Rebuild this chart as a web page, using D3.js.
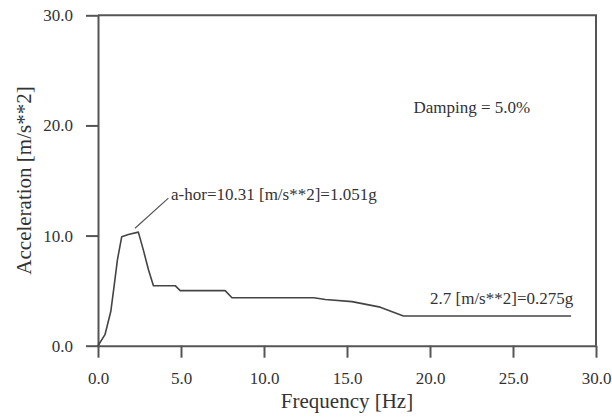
<!DOCTYPE html>
<html>
<head>
<meta charset="utf-8">
<script src="https://cdn.jsdelivr.net/npm/d3@7"></script>
<style>
  body { margin: 0; background: #fff; }
  text { font-family: "Liberation Serif", "DejaVu Serif", serif; fill: #333; }
</style>
</head>
<body>
<div id="chart"></div>
<script>
////////////////////////////////////////////////////////////////////////
// response spectrum -- acceleration vs frequency
////////////////////////////////////////////////////////////////////////

//Spectrum points
var freqHz = [0.0, 0.42, 0.77, 0.97, 1.17, 1.43, 1.83, 2.43, 2.73, 3.04, 3.34, 4.65, 4.95, 7.66, 8.07, 13.0, 13.7, 15.3, 17.0, 18.4, 28.5];
var accel  = [0.0, 1.0,  3.1,  5.4,  7.8,  9.9,  10.1, 10.31, 8.7, 6.9,  5.45, 5.45, 5.0,  5.0,  4.35, 4.35, 4.2,  4.0,  3.5,  2.7,  2.7];

var xTicks = [0, 5, 10, 15, 20, 25, 30];
var yTicks = [0, 10, 20, 30];

var xTitle = "Frequency [Hz]";
var yTitle = "Acceleration [m/s**2]";

//Notes: [freq, accel] anchor of the text, label
var peakNote  = {at: [4.4, 13.2],  leader: [[2.23, 10.66], [4.24, 13.4]], label: "a-hor=10.31 [m/s**2]=1.051g"};
var tailNote  = {at: [20.0, 3.8],  label: "2.7 [m/s**2]=0.275g"};
var dampNote  = {at: [19.0, 21.1], label: "Damping = 5.0%"};


////////////////////////////////////////////////////////////////////////
//
// Draw the chart
//
////////////////////////////////////////////////////////////////////////
function drawChart()
    {
    var width = 612, height = 417;
    var left = 98, right = 596, top = 15.3, bottom = 345.7;

    var svg = d3.select("#chart").append("svg")
        .attr("width", width)
        .attr("height", height);

    var x = d3.scaleLinear().domain([0, 30]).range([left, right]);
    var y = d3.scaleLinear().domain([0, 30]).range([bottom, top]);

    var lineCol = "#555";

    //Axes, ticks point outward
    var xAxis = svg.append("g")
        .attr("transform", "translate(0," + bottom + ")")
        .call(d3.axisBottom(x).tickValues(xTicks).tickFormat(d3.format(".1f"))
            .tickSize(12).tickSizeOuter(0).tickPadding(14));

    var yAxis = svg.append("g")
        .attr("transform", "translate(" + left + ",0)")
        .call(d3.axisLeft(y).tickValues(yTicks).tickFormat(d3.format(".1f"))
            .tickSize(12).tickSizeOuter(0).tickPadding(13));

    [xAxis, yAxis].forEach(function(g)
        {
        g.selectAll("path, line").attr("stroke", lineCol).attr("stroke-width", 2);
        g.selectAll("text").attr("font-size", 17).attr("fill", "#333")
            .attr("font-family", "Liberation Serif");
        });

    //Top and right frame
    svg.append("path")
        .attr("d", "M" + left + "," + top + "H" + right + "V" + bottom)
        .attr("fill", "none")
        .attr("stroke", lineCol)
        .attr("stroke-width", 2);

    //Spectrum curve
    var pts = freqHz.map(function(f, i) { return [f, accel[i]]; });
    svg.append("path")
        .datum(pts)
        .attr("d", d3.line().x(function(d) { return x(d[0]); }).y(function(d) { return y(d[1]); }))
        .attr("fill", "none")
        .attr("stroke", "#444")
        .attr("stroke-width", 1.6)
        .attr("stroke-linejoin", "round");

    //Peak leader line
    svg.append("line")
        .attr("x1", x(peakNote.leader[0][0])).attr("y1", y(peakNote.leader[0][1]))
        .attr("x2", x(peakNote.leader[1][0])).attr("y2", y(peakNote.leader[1][1]))
        .attr("stroke", "#555")
        .attr("stroke-width", 1.2);

    [peakNote, tailNote, dampNote].forEach(function(n)
        {
        svg.append("text")
            .attr("x", x(n.at[0]))
            .attr("y", y(n.at[1]))
            .attr("font-size", 17)
            .text(n.label);
        });

    //Axis titles
    svg.append("text")
        .attr("x", (left + right) / 2)
        .attr("y", 408)
        .attr("text-anchor", "middle")
        .attr("font-size", 21)
        .text(xTitle);

    svg.append("text")
        .attr("transform", "translate(31," + (top + bottom) / 2 + ") rotate(-90)")
        .attr("text-anchor", "middle")
        .attr("font-size", 21)
        .text(yTitle);
    }

drawChart();
</script>
</body>
</html>
